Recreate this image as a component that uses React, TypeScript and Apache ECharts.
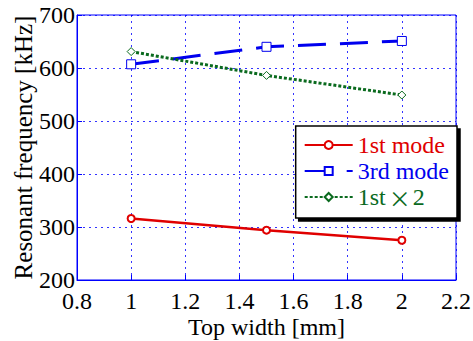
import React, { useEffect, useRef } from "react";
import * as echarts from "echarts";

const widths = [1, 1.5, 2];
const mode1 = [316, 294, 275];
const mode3 = [607, 640, 651];
const mode1x2 = [631, 586, 549];
const seriesNames = ["1st mode", "3rd mode", "1st\u00d72"];

export default function App() {
  const ref = useRef<HTMLDivElement>(null);
  useEffect(() => {
    const chart = echarts.init(ref.current!, null, { renderer: "svg" });
    const font = "Liberation Serif";
    const red = "#e00000";
    const blue = "#0000ee";
    const green = "#0a6a1e";
    const pts = (ys: number[]) => widths.map((x, i) => [x, ys[i]]);
    const lf = 24;
    chart.setOption({
      animation: false,
      grid: {
        left: 77,
        top: 15,
        right: 17,
        bottom: 61,
        show: true,
        borderColor: "#0000ff",
        borderWidth: 1,
        backgroundColor: "#fff",
        outerBoundsMode: "none",
        containLabel: false,
      },
      xAxis: {
        type: "value",
        min: 0.8,
        max: 2.2,
        interval: 0.2,
        name: "Top width [mm]",
        nameLocation: "middle",
        nameGap: 37,
        nameMoveOverlap: false,
        nameTextStyle: { fontFamily: font, fontSize: 24, lineHeight: 20, color: "#000" },
        axisLine: { show: true, lineStyle: { color: "#0000ff" } },
        axisTick: { show: true, inside: true, length: 5, lineStyle: { color: "#0000ff" } },
        axisLabel: {
          fontFamily: font,
          fontSize: 24,
          lineHeight: 20,
          color: "#000",
          margin: 11,
          formatter: (v: number) => String(Math.round(v * 10) / 10),
        },
        splitLine: { show: true, lineStyle: { color: "#0000ff", type: [2, 4], width: 1, opacity: 0.8 } },
      },
      yAxis: {
        type: "value",
        min: 200,
        max: 700,
        interval: 100,
        name: "Resonant frequency [kHz]",
        nameLocation: "middle",
        nameGap: 41,
        nameMoveOverlap: false,
        nameTextStyle: { fontFamily: font, fontSize: 25, color: "#000" },
        axisLine: { show: true, lineStyle: { color: "#0000ff" } },
        axisTick: { show: true, inside: true, length: 5, lineStyle: { color: "#0000ff" } },
        axisLabel: { fontFamily: font, fontSize: 24, lineHeight: 20, color: "#000", margin: 2 },
        splitLine: { show: true, lineStyle: { color: "#0000ff", type: [2, 4], width: 1, opacity: 0.8 } },
      },
      legend: {
        right: 16,
        top: 126,
        orient: "vertical",
        backgroundColor: "#fff",
        borderColor: "#000",
        borderWidth: 1.5,
        shadowColor: "#000",
        shadowOffsetX: 3,
        shadowOffsetY: 3,
        shadowBlur: 0,
        padding: [7, 8, 9, 8],
        itemGap: 2,
        itemWidth: 48,
        itemHeight: 10,
        textStyle: {
          fontFamily: font,
          fontSize: lf,
          lineHeight: 24,
          rich: {
            r: { fontFamily: font, fontSize: lf, lineHeight: 24, color: red },
            b: { fontFamily: font, fontSize: lf, lineHeight: 24, color: blue },
            g: { fontFamily: font, fontSize: lf, lineHeight: 24, color: green },
            x: { fontFamily: "Noto Sans CJK JP", fontSize: 22, lineHeight: 24, color: green, padding: [0, 2, 0, 3] },
          },
        },
        formatter: (name: string) =>
          name === seriesNames[2]
            ? "{g|1st}{x|\u00d7}{g|2}"
            : name === seriesNames[1]
            ? "{b|" + name + "}"
            : "{r|" + name + "}",
        data: seriesNames,
      },
      series: [
        {
          name: seriesNames[0],
          type: "line",
          data: pts(mode1),
          symbol: "emptyCircle",
          symbolSize: 7,
          lineStyle: { color: red, width: 2.5 },
          itemStyle: { color: red, borderWidth: 1 },
        },
        {
          name: seriesNames[1],
          type: "line",
          data: pts(mode3),
          symbol: "rect",
          symbolSize: 9,
          lineStyle: { color: blue, width: 3, type: [28, 14] },
          itemStyle: { color: "#fff", borderColor: blue, borderWidth: 1 },
        },
        {
          name: seriesNames[2],
          type: "line",
          data: pts(mode1x2),
          symbol: "diamond",
          symbolSize: 8,
          lineStyle: { color: green, width: 3, type: [3, 2] },
          itemStyle: { color: "#fff", borderColor: green, borderWidth: 1 },
        },
      ],
    });
    return () => chart.dispose();
  }, []);
  return <div ref={ref} style={{ width: 473, height: 341, position: "absolute", left: 0, top: 0, background: "#fff" }} />;
}
